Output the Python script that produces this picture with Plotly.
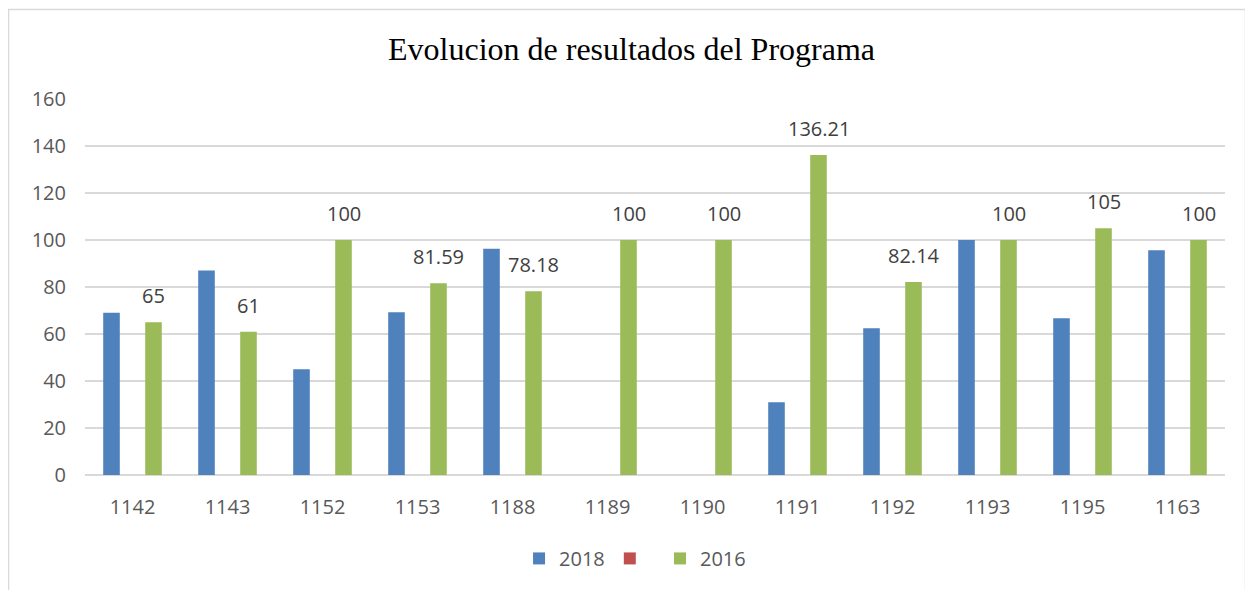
import plotly.graph_objects as go

categories = ["1142", "1143", "1152", "1153", "1188", "1189", "1190", "1191", "1192", "1193", "1195", "1163"]
values_2018 = [69, 87, 45, 69.3, 96.3, None, None, 31, 62.4, 100, 66.7, 95.6]
values_blank = [None] * 12
values_2016 = [65, 61, 100, 81.59, 78.18, 100, 100, 136.21, 82.14, 100, 105, 100]
labels_2016 = ["65", "61", "100", "81.59", "78.18", "100", "100", "136.21", "82.14", "100", "105", "100"]

BLUE = "#4f81bd"
RED = "#c0504d"
GREEN = "#9bbb59"
FONT = "Open Sans"

fig = go.Figure()
fig.add_trace(go.Bar(name="2018", x=categories, y=values_2018, marker=dict(color=BLUE, line=dict(width=0))))
fig.add_trace(go.Bar(name=" ", x=categories, y=values_blank, marker=dict(color=RED, line=dict(width=0))))
fig.add_trace(go.Bar(name="2016", x=categories, y=values_2016, marker=dict(color=GREEN, line=dict(width=0))))

# annotations on a category axis: x given as the category index
for i, (v, t) in enumerate(zip(values_2016, labels_2016)):
    fig.add_annotation(x=i, y=v, text=t, xshift=21, yshift=11, yanchor="bottom",
                       showarrow=False, font=dict(family=FONT, size=20, color="#404040"))

fig.add_shape(type="rect", xref="paper", yref="paper",
              x0=-0.0671, x1=1.018, y0=-0.35, y1=1.238,
              line=dict(color="#d9d9d9", width=1.5), layer="below")

fig.update_layout(
    width=1253, height=590,
    paper_bgcolor="white", plot_bgcolor="white",
    margin=dict(l=77, r=36, t=91, b=123, autoexpand=False),
    barmode="group", bargap=0.337, bargroupgap=0.21,
    title=dict(text="Evolucion de resultados del Programa", x=0.4976, xanchor="center",
               y=1 - 41 / 590, yanchor="middle",
               font=dict(family="Liberation Serif", size=32, color="#000000")),
    showlegend=True,
    legend=dict(orientation="h", x=0.4825, xanchor="center", y=-0.17, yanchor="top",
                font=dict(family=FONT, size=20, color="#595959"),
                itemwidth=30, traceorder="normal"),
    xaxis=dict(type="category", categoryorder="array", categoryarray=categories,
               showgrid=False, showline=False, ticks="", ticklabelstandoff=18,
               tickfont=dict(family=FONT, size=20, color="#595959")),
    yaxis=dict(range=[0, 160], dtick=20, showgrid=True, gridcolor="#d9d9d9", gridwidth=1.5,
               zeroline=True, zerolinecolor="#d9d9d9", zerolinewidth=1.5,
               showline=False, ticks="", ticklabelstandoff=18,
               tickfont=dict(family=FONT, size=20, color="#595959")),
)

fig.write_html("out.html")
